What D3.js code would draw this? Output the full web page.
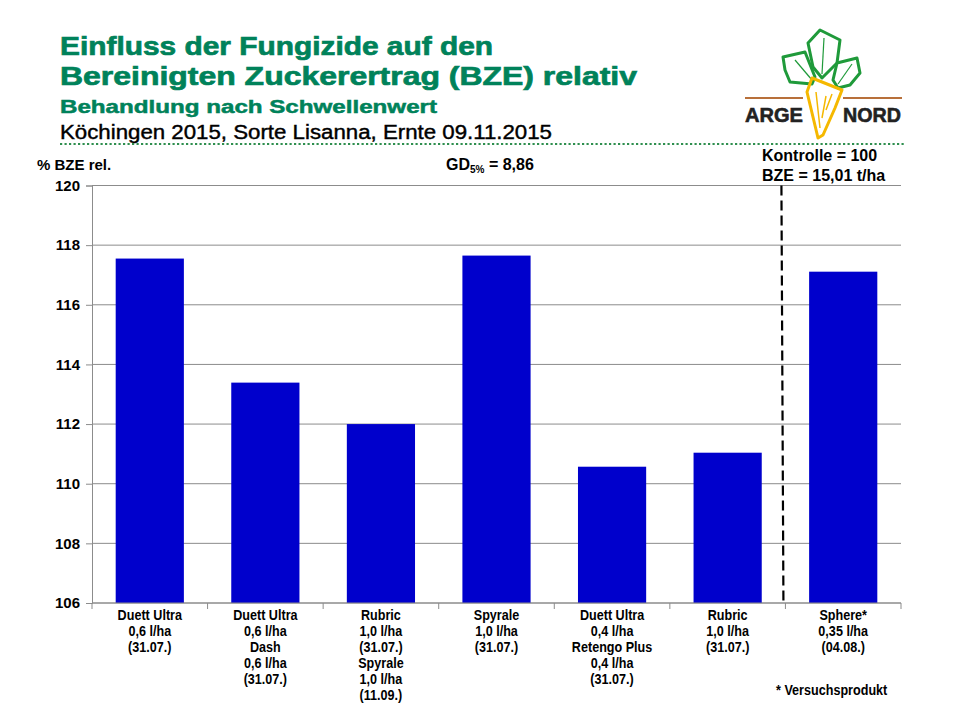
<!DOCTYPE html>
<html>
<head>
<meta charset="utf-8">
<title>Einfluss der Fungizide auf den BZE</title>
<style>
  body { margin: 0; background: #fff; }
  text { font-family: "Liberation Sans", Arial, sans-serif; }
  .xlab { font-weight: bold; font-size: 15px; }
</style>
</head>
<body>
<svg width="960" height="720"></svg>
<script src="https://cdnjs.cloudflare.com/ajax/libs/d3/7.8.5/d3.min.js"></script>
<script>

// chart values
const categories = [
  ["Duett Ultra", "0,6 l/ha", "(31.07.)"],
  ["Duett Ultra", "0,6 l/ha", "Dash", "0,6 l/ha", "(31.07.)"],
  ["Rubric", "1,0 l/ha", "(31.07.)", "Spyrale", "1,0 l/ha", "(11.09.)"],
  ["Spyrale", "1,0 l/ha", "(31.07.)"],
  ["Duett Ultra", "0,4 l/ha", "Retengo Plus", "0,4 l/ha", "(31.07.)"],
  ["Rubric", "1,0 l/ha", "(31.07.)"],
  ["Sphere*", "0,35 l/ha", "(04.08.)"]
];
const values = [117.55, 113.39, 112.0, 117.65, 110.57, 111.04, 117.11];
const yTicks = [106, 108, 110, 112, 114, 116, 118, 120];
const yDomain = [106, 120];

const titleLines = ["Einfluss der Fungizide auf den", "Bereinigten Zuckerertrag (BZE) relativ"];
const subTitle = "Behandlung nach Schwellenwert";
const siteLine = "Köchingen 2015, Sorte Lisanna, Ernte 09.11.2015";
const controlLines = ["Kontrolle = 100", "BZE = 15,01 t/ha"];

const green = "#00825a";
const barColor = "#0000cc";
const gridColor = "#8c8c8c";

const svg = d3.select("svg");

// header
const head = svg.append("g");
head.selectAll("text.title")
  .data(titleLines)
  .enter().append("text")
  .attr("class", "title")
  .attr("x", 60)
  .attr("y", (d, i) => 55 + i * 30)
  .attr("fill", green)
  .attr("stroke", green)
  .attr("stroke-width", 0.7)
  .attr("font-weight", "bold")
  .attr("font-size", 26)
  .attr("textLength", (d, i) => [433, 577][i])
  .attr("lengthAdjust", "spacingAndGlyphs")
  .text(d => d);

head.append("text")
  .attr("x", 60).attr("y", 113)
  .attr("fill", green)
  .attr("stroke", green)
  .attr("stroke-width", 0.5)
  .attr("font-weight", "bold")
  .attr("font-size", 18.5)
  .attr("textLength", 377)
  .attr("lengthAdjust", "spacingAndGlyphs")
  .text(subTitle);

head.append("text")
  .attr("x", 60).attr("y", 139)
  .attr("fill", "#000")
  .attr("font-size", 19.5)
  .attr("stroke", "#000")
  .attr("stroke-width", 0.4)
  .attr("textLength", 492)
  .attr("lengthAdjust", "spacingAndGlyphs")
  .text(siteLine);

head.append("line")
  .attr("x1", 60).attr("x2", 906)
  .attr("y1", 144).attr("y2", 144)
  .attr("stroke", "#2f8f4f")
  .attr("stroke-width", 2.2)
  .attr("stroke-dasharray", "2.2,2.3");

// logo
const logo = svg.append("g");
const leaves = [
  [[783,57],[805,52],[815,77],[812,84],[790,82],[785,70]],
  [[808,43],[820,30],[840,40],[837,63],[822,78],[813,67]],
  [[837,63],[857,58],[860,73],[850,85],[838,88],[833,80]]
];
logo.selectAll("path.leaf")
  .data(leaves)
  .enter().append("path")
  .attr("d", d => d3.line()(d) + "Z")
  .attr("fill", "none")
  .attr("stroke", "#1f9a3a")
  .attr("stroke-width", 3)
  .attr("stroke-linejoin", "round");
logo.selectAll("path.vein")
  .data([[[795,60],[812,80]], [[824,38],[822,74]], [[852,64],[838,84]]])
  .enter().append("path")
  .attr("d", d => d3.line()(d))
  .attr("stroke", "#1f9a3a")
  .attr("stroke-width", 1.2);
logo.selectAll("line.soil")
  .data([[745, 803], [843, 902]])
  .enter().append("line")
  .attr("x1", d => d[0]).attr("x2", d => d[1])
  .attr("y1", 98).attr("y2", 98)
  .attr("stroke", "#b8703a")
  .attr("stroke-width", 2.2);
logo.append("path")
  .attr("d", d3.line()([[812,78],[842,90],[835,108],[823,135],[818,138],[807,92]]) + "Z")
  .attr("fill", "none")
  .attr("stroke", "#f5b800")
  .attr("stroke-width", 3)
  .attr("stroke-linejoin", "round");
logo.append("path")
  .attr("d", "M816,92 L820,128 M826,96 L822,118 M832,94 L826,110")
  .attr("stroke", "#f5b800")
  .attr("stroke-width", 1.5);
logo.selectAll("text.logo")
  .data([["ARGE", 745], ["NORD", 843]])
  .enter().append("text")
  .attr("x", d => d[1]).attr("y", 122)
  .attr("fill", "#222")
  .attr("font-weight", "bold")
  .attr("font-size", 21)
  .attr("stroke", "#222")
  .attr("stroke-width", 0.6)
  .attr("textLength", 58)
  .attr("lengthAdjust", "spacingAndGlyphs")
  .text(d => d[0]);

// chart
const margin = { left: 92, right: 59, top: 185.5, bottom: 117 };
const W = 960, H = 720;
const x = d3.scaleBand()
  .domain(d3.range(categories.length))
  .range([margin.left, W - margin.right])
  .paddingInner(0.41)
  .paddingOuter(0.205);
const y = d3.scaleLinear()
  .domain(yDomain)
  .range([H - margin.bottom, margin.top]);

const plot = svg.append("g");

// gridlines
plot.append("g")
  .selectAll("line")
  .data(yTicks)
  .enter().append("line")
  .attr("x1", margin.left).attr("x2", W - margin.right)
  .attr("y1", d => y(d)).attr("y2", d => y(d))
  .attr("stroke", gridColor)
  .attr("stroke-width", 1);

// y axis
const yAxis = plot.append("g")
  .attr("transform", `translate(${margin.left},0)`)
  .call(d3.axisLeft(y).tickValues(yTicks).tickSize(6).tickPadding(6).tickFormat(d3.format("d")));
yAxis.select(".domain").attr("stroke", gridColor);
yAxis.selectAll(".tick line").attr("stroke", gridColor);
yAxis.selectAll(".tick text")
  .attr("font-family", "Liberation Sans, Arial, sans-serif")
  .attr("font-weight", "bold")
  .attr("font-size", 15)
  .attr("fill", "#000");

// bars
plot.append("g")
  .selectAll("rect")
  .data(values)
  .enter().append("rect")
  .attr("x", (d, i) => x(i))
  .attr("width", x.bandwidth())
  .attr("y", d => y(d))
  .attr("height", d => y(yDomain[0]) - y(d))
  .attr("fill", barColor);

// x axis line and boundary ticks
const x0 = x.range()[0];
const step = x.step();
plot.append("line")
  .attr("x1", margin.left).attr("x2", W - margin.right)
  .attr("y1", y(yDomain[0])).attr("y2", y(yDomain[0]))
  .attr("stroke", gridColor);
plot.append("g")
  .selectAll("line")
  .data(d3.range(categories.length + 1))
  .enter().append("line")
  .attr("x1", i => x0 + i * step).attr("x2", i => x0 + i * step)
  .attr("y1", y(yDomain[0])).attr("y2", y(yDomain[0]) + 6)
  .attr("stroke", gridColor);

// category labels (narrow bold)
const labs = plot.append("g");
categories.forEach((lines, i) => {
  labs.append("text")
    .attr("class", "xlab")
    .attr("text-anchor", "middle")
    .attr("transform", `translate(${x(i) + x.bandwidth() / 2},0) scale(0.84,1)`)
    .selectAll("tspan")
    .data(lines)
    .enter().append("tspan")
    .attr("x", 0)
    .attr("y", (d, j) => 620 + j * 16)
    .text(d => d);
});
svg.append("text")
  .attr("class", "xlab")
  .attr("transform", "translate(776,0) scale(0.84,1)")
  .attr("x", 0).attr("y", 695)
  .text("* Versuchsprodukt");

// control separator
const sepX = x0 + 6 * step - 4;
plot.append("line")
  .attr("x1", sepX).attr("x2", sepX + 2)
  .attr("y1", margin.top).attr("y2", y(yDomain[0]))
  .attr("stroke", "#000")
  .attr("stroke-width", 2.2)
  .attr("stroke-dasharray", "10,5");

svg.selectAll("text.ctrl")
  .data(controlLines)
  .enter().append("text")
  .attr("class", "ctrl")
  .attr("x", 762)
  .attr("y", (d, i) => 161 + i * 20)
  .attr("font-weight", "bold")
  .attr("font-size", 16)
  .text(d => d);

// axis caption and GD
svg.append("text")
  .attr("x", 37).attr("y", 170)
  .attr("font-weight", "bold")
  .attr("font-size", 15)
  .text("% BZE rel.");

const gd = svg.append("text")
  .attr("x", 446).attr("y", 170)
  .attr("font-weight", "bold")
  .attr("font-size", 16);
gd.append("tspan").text("GD");
gd.append("tspan").attr("font-size", 10).attr("dy", 3).text("5%");
gd.append("tspan").attr("dy", -3).text(" = 8,86");

</script>
</body>
</html>
